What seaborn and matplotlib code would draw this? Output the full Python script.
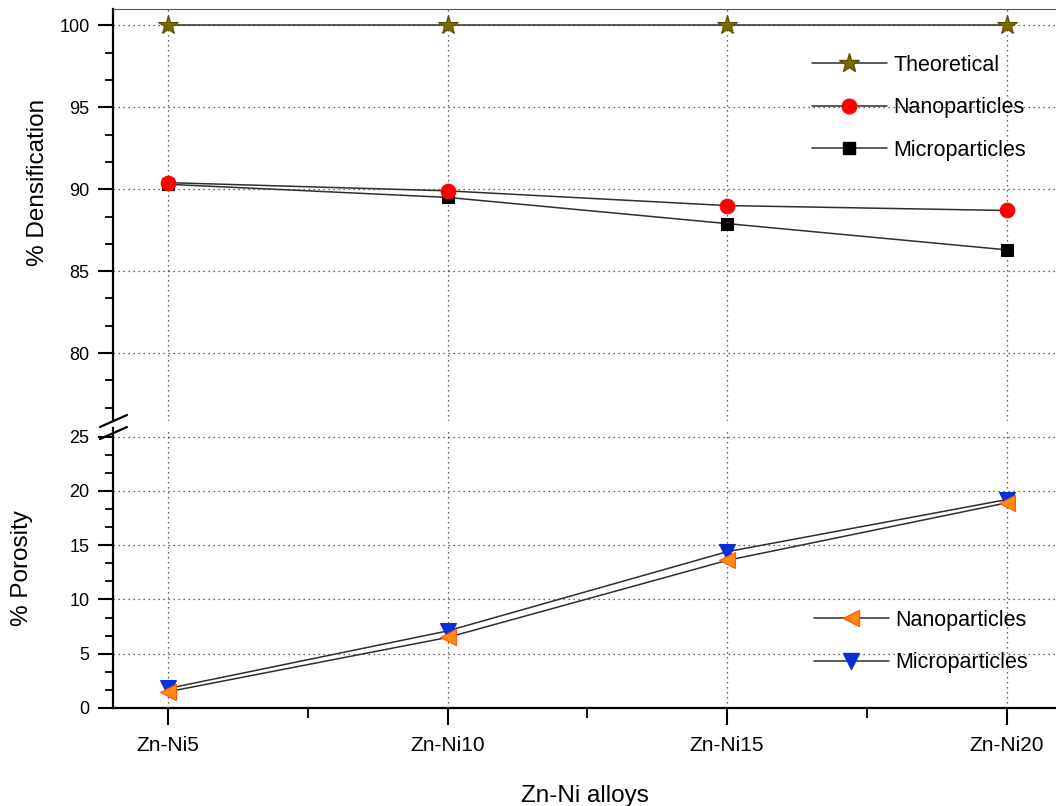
import matplotlib
matplotlib.use("Agg")
import matplotlib.pyplot as plt
import seaborn as sns
import pandas as pd
from matplotlib.lines import Line2D

alloys = ["Zn-Ni5", "Zn-Ni10", "Zn-Ni15", "Zn-Ni20"]
dens_theoretical = [100.0, 100.0, 100.0, 100.0]
dens_nano = [90.4, 89.9, 89.0, 88.7]
dens_micro = [90.3, 89.5, 87.9, 86.3]
por_nano = [1.5, 6.5, 13.6, 18.9]
por_micro = [1.8, 7.1, 14.4, 19.2]

sns.set_style("ticks")
plt.rcParams["font.family"] = ["Liberation Sans", "DejaVu Sans"]
for k in ("text.color", "axes.labelcolor", "xtick.color", "ytick.color", "axes.edgecolor"):
    plt.rcParams[k] = "black"

W, H = 1056, 806
fig = plt.figure(figsize=(W / 100, H / 100), dpi=100)
left = 113 / W
right = 1.0
ax_top = fig.add_axes([left, 1 - 421 / H, right - left, (421 - 9) / H])
ax_bot = fig.add_axes([left, 1 - 708 / H, right - left, (708 - 428) / H])

line_c = "#2e2e2e"
# (label, values, marker, face, edge, size, zorder)
series_top = [
    ("Theoretical", dens_theoretical, "*", "#7a6a00", "#5a4e00", 15, 5),
    ("Nanoparticles", dens_nano, "o", "#ff0000", "#ff0000", 10.5, 4),
    ("Microparticles", dens_micro, "s", "#000000", "#000000", 9, 3),
]
series_bot = [
    ("Nanoparticles", por_nano, "<", "#ff8a10", "#ff5a00", 11.5, 4),
    ("Microparticles", por_micro, "v", "#0a2fd6", "#0a2fd6", 11.5, 3),
]

def draw(ax, series):
    handles = []
    for name, vals, mk, fc, ec, ms, z in series:
        df = pd.DataFrame({"alloy": alloys, "value": vals})
        sns.lineplot(data=df, x="alloy", y="value", ax=ax, sort=False,
                     color=line_c, lw=1.1, marker=mk, markersize=ms,
                     markerfacecolor=fc, markeredgecolor=ec, markeredgewidth=0.8,
                     zorder=z, legend=False)
        handles.append(Line2D([0], [0], color=line_c, lw=1.1, marker=mk,
                              markersize=ms, markerfacecolor=fc,
                              markeredgecolor=ec, label=name))
    return handles

h_top = draw(ax_top, series_top)
h_bot = draw(ax_bot, series_bot)

xlim = (-0.197, 3.177)
for ax in (ax_top, ax_bot):
    ax.set_xlim(*xlim)
    ax.set_xticks(range(len(alloys)))
    ax.set_xticks([0.5, 1.5, 2.5], minor=True)
    ax.grid(True, which="major", ls=(0, (1, 3)), color="#333333", lw=0.9)
    ax.spines["right"].set_visible(False)
    ax.spines["left"].set_linewidth(1.6)
    ax.tick_params(axis="y", which="major", length=11, width=1.5, labelsize=13,
                   direction="out", pad=6)
    ax.tick_params(axis="y", which="minor", length=6, width=1.3, direction="out")
    ax.set_facecolor("white")

ax_top.set_ylim(75.85, 101.0)
ax_top.set_yticks([80, 85, 90, 95, 100])
ax_top.set_yticks([76.667, 78.333, 81.667, 83.333, 86.667, 88.333, 91.667,
                   93.333, 96.667, 98.333], minor=True)
ax_top.spines["bottom"].set_visible(False)
ax_top.spines["top"].set_linewidth(0.8)
ax_top.spines["top"].set_color("#555555")
ax_top.tick_params(axis="x", which="both", length=0, labelbottom=False)
ax_top.set_xlabel("")
ax_top.set_ylabel("% Densification", fontsize=17.5, va="center")
ax_top.yaxis.set_label_coords(-0.0795, 0.58)

ax_bot.set_ylim(0, 25.8)
ax_bot.set_yticks([0, 5, 10, 15, 20, 25])
ax_bot.set_yticks([1.667, 3.333, 6.667, 8.333, 11.667, 13.333, 16.667, 18.333,
                   21.667, 23.333], minor=True)
ax_bot.spines["top"].set_visible(False)
ax_bot.spines["bottom"].set_linewidth(1.6)
ax_bot.set_xticklabels(alloys)
ax_bot.tick_params(axis="x", which="major", length=12, width=1.5, labelsize=15,
                   direction="out", pad=8)
ax_bot.tick_params(axis="x", which="minor", length=7, width=1.3, direction="out")
ax_bot.set_ylabel("% Porosity", fontsize=17.5, va="center")
ax_bot.yaxis.set_label_coords(-0.0965, 0.5)
ax_bot.set_xlabel("Zn-Ni alloys", fontsize=17.5, labelpad=22)

leg_kw = dict(frameon=False, fontsize=15.5, handlelength=3.5, handletextpad=0.3,
              labelspacing=1.0, numpoints=1, borderaxespad=0)
ax_top.legend(handles=h_top, loc="upper left",
              bbox_to_anchor=((803 - 113) / 943, 1 - (46 - 9) / 412), **leg_kw)
ax_bot.legend(handles=h_bot, loc="upper left",
              bbox_to_anchor=((805 - 113) / 943, 1 - (601 - 428) / 280), **leg_kw)

# axis break marks
for yc in (421, 433):
    fig.add_artist(Line2D([100 / W, 127 / W], [1 - (yc + 6) / H, 1 - (yc - 6) / H],
                          color="black", lw=1.6, transform=fig.transFigure))

fig.savefig("out.png", dpi=100, facecolor="white")
